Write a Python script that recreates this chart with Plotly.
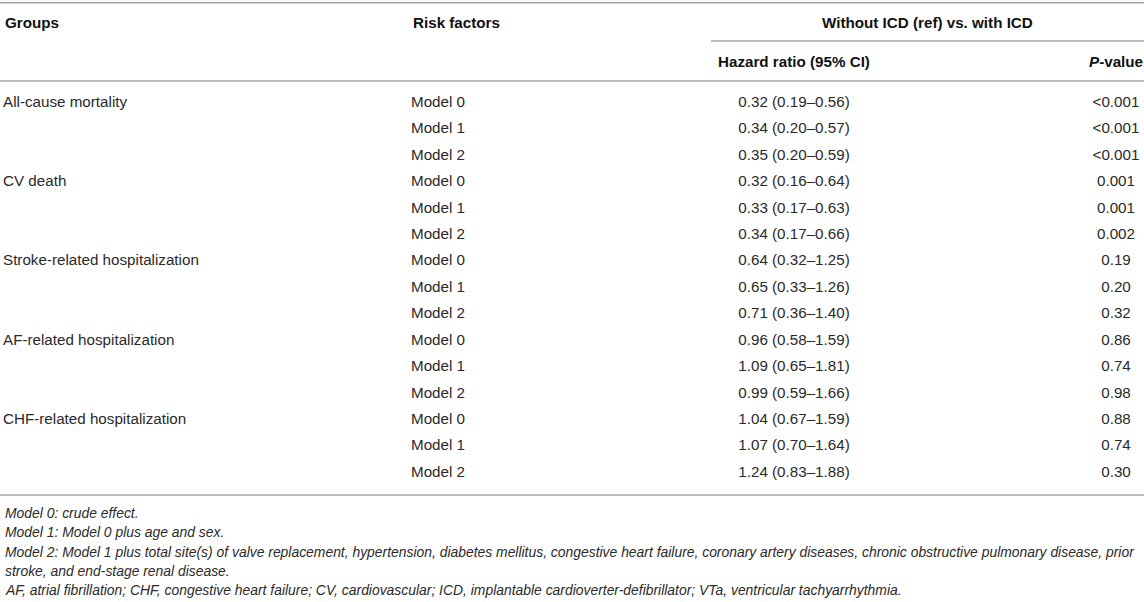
import plotly.graph_objects as go

# ---- data ----
groups = ["All-cause mortality", "CV death", "Stroke-related hospitalization",
          "AF-related hospitalization", "CHF-related hospitalization"]
models = ["Model 0", "Model 1", "Model 2"]
hazard_ratio = [
    "0.32 (0.19–0.56)", "0.34 (0.20–0.57)", "0.35 (0.20–0.59)",
    "0.32 (0.16–0.64)", "0.33 (0.17–0.63)", "0.34 (0.17–0.66)",
    "0.64 (0.32–1.25)", "0.65 (0.33–1.26)", "0.71 (0.36–1.40)",
    "0.96 (0.58–1.59)", "1.09 (0.65–1.81)", "0.99 (0.59–1.66)",
    "1.04 (0.67–1.59)", "1.07 (0.70–1.64)", "1.24 (0.83–1.88)",
]
p_values = [
    "<0.001", "<0.001", "<0.001",
    "0.001", "0.001", "0.002",
    "0.19", "0.20", "0.32",
    "0.86", "0.74", "0.98",
    "0.88", "0.74", "0.30",
]
header_top = ["Groups", "Risk factors", "Without ICD (ref) vs. with ICD"]
header_sub = ["Hazard ratio (95% CI)", "<i>P</i>-value"]
footnotes = [
    "Model 0: crude effect.",
    "Model 1: Model 0 plus age and sex.",
    "Model 2: Model 1 plus total site(s) of valve replacement, hypertension, diabetes mellitus, congestive heart failure, coronary artery diseases, chronic obstructive pulmonary disease, prior",
    "stroke, and end-stage renal disease.",
    "AF, atrial fibrillation; CHF, congestive heart failure; CV, cardiovascular; ICD, implantable cardioverter-defibrillator; VTa, ventricular tachyarrhythmia.",
]

# ---- layout constants ----
W, H = 1144, 602
FONT = "Liberation Sans, Arial, Helvetica, sans-serif"
TXT = "#2a2a2a"
LINE = "#a6a6a6"
FS = 15.2
row0, dy = 103, 26.43
x_grp, x_rf, x_hr, x_p = 3, 411, 794, 1116

n = len(groups) * len(models)
row_y = [row0 + i * dy for i in range(n)]
grp_col = []
for g in groups:
    grp_col += [g, "", ""]
rf_col = models * len(groups)

fig = go.Figure()
fig.add_trace(go.Scatter(x=[x_grp] * n, y=row_y, text=grp_col, mode="text",
                         textposition="middle right",
                         textfont=dict(family=FONT, size=FS, color=TXT), hoverinfo="skip"))
fig.add_trace(go.Scatter(x=[x_rf] * n, y=row_y, text=rf_col, mode="text",
                         textposition="middle right",
                         textfont=dict(family=FONT, size=FS, color=TXT), hoverinfo="skip"))
fig.add_trace(go.Scatter(x=[x_hr] * n, y=row_y, text=hazard_ratio, mode="text",
                         textposition="middle center",
                         textfont=dict(family=FONT, size=FS, color=TXT), hoverinfo="skip"))
fig.add_trace(go.Scatter(x=[x_p] * n, y=row_y, text=p_values, mode="text",
                         textposition="middle center",
                         textfont=dict(family=FONT, size=FS, color=TXT), hoverinfo="skip"))

hfont = dict(family=FONT, size=FS, color="#111111")
ann = []
ann.append(dict(x=x_grp, y=22.7, text="<b>" + header_top[0] + "</b>", xanchor="left"))
ann.append(dict(x=x_rf, y=22.7, text="<b>" + header_top[1] + "</b>", xanchor="left"))
ann.append(dict(x=927, y=22.7, text="<b>" + header_top[2] + "</b>", xanchor="center"))
ann.append(dict(x=x_hr, y=61.5, text="<b>" + header_sub[0] + "</b>", xanchor="center"))
ann.append(dict(x=x_p, y=61.5, text="<b>" + header_sub[1] + "</b>", xanchor="center"))
for a in ann:
    a.update(xref="x", yref="y", yanchor="middle", showarrow=False, font=hfont)

foot_y0, foot_dy = 513, 19.3
for i, f in enumerate(footnotes):
    ann.append(dict(x=x_grp, y=foot_y0 + i * foot_dy, text="<i>" + f + "</i>",
                    xref="x", yref="y", xanchor="left", yanchor="middle",
                    showarrow=False, font=dict(family=FONT, size=13.9, color=TXT)))

shapes = []
for y, x0 in [(2.7, 0), (41, 711), (81, 0), (495, 0)]:
    shapes.append(dict(type="line", xref="x", yref="y", x0=x0, x1=W, y0=y, y1=y,
                       line=dict(color=LINE, width=1.6)))

fig.update_layout(
    width=W, height=H, margin=dict(l=0, r=0, t=0, b=0),
    paper_bgcolor="white", plot_bgcolor="white", showlegend=False,
    xaxis=dict(range=[0, W], visible=False, fixedrange=True),
    yaxis=dict(range=[H, 0], visible=False, fixedrange=True),
    annotations=ann, shapes=shapes,
)
fig.write_html("out.html", config={"displayModeBar": False},
               post_script="document.body.style.margin='0';document.body.style.overflow='hidden';")
